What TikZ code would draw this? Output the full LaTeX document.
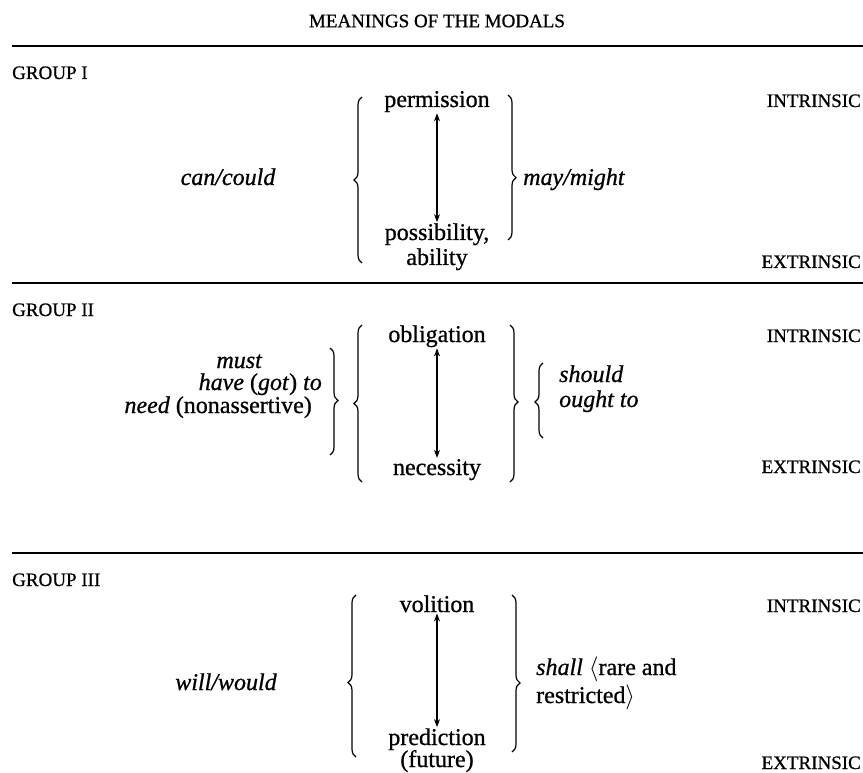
\documentclass[tikz,border=0pt]{standalone}
\usepackage{fontspec}
\setmainfont{Liberation Serif}[FakeBold=0.8]
\usetikzlibrary{arrows.meta,decorations.pathreplacing,positioning}

\tikzset{
  meaning/.style={font=\fontsize{24}{25}\selectfont, inner sep=1pt, anchor=base},
  modal/.style={font=\fontsize{24}{25}\selectfont\itshape, inner sep=1pt, anchor=base},
  heading/.style={font=\fontsize{19}{21}\selectfont, inner sep=0pt},
  rule/.style={line width=1.5pt},
  scale arrow/.style={{Stealth[length=8pt,width=6pt]}-{Stealth[length=8pt,width=6pt]}, line width=1.2pt},
  curly/.style={decorate, decoration={brace, amplitude=8pt}, line width=1.2pt},
}

\begin{document}
\begin{tikzpicture}[x=1pt,y=-1pt]
	\useasboundingbox (0,0) rectangle (863,773);

	\node[heading] (title) at (437,21) {MEANINGS OF THE MODALS};
	\draw[rule] (12,46) -- (863,46);
	\draw[rule] (12,283) -- (863,283);
	\draw[rule] (12,553) -- (863,553);

	% group I
	\node[heading, anchor=base west] (g1) at (12,79) {GROUP I};
	\node[heading, anchor=base east] (in1) at (861,107) {INTRINSIC};
	\node[heading, anchor=base east] (ex1) at (861,268) {EXTRINSIC};
	\node[meaning] (perm) at (437,107) {permission};
	\node[meaning] (poss) at (437,240) {possibility,};
	\node[meaning] (abil) at (437,265) {ability};
	\draw[scale arrow] (perm.south) -- (perm.south |- poss.north);
	\node[modal] (can) at (228,185) {can/could};
	\node[modal, anchor=base west] (may) at (522,185) {may/might};
	\draw[curly] (362,263) -- (362,97);
	\draw[curly, decoration={aspect=0.57}] (508,95) -- (508,240);

	% group II
	\node[heading, anchor=base west] (g2) at (12,316) {GROUP II};
	\node[heading, anchor=base east] (in2) at (861,342) {INTRINSIC};
	\node[heading, anchor=base east] (ex2) at (861,473) {EXTRINSIC};
	\node[meaning] (oblig) at (437,342) {obligation};
	\node[meaning] (necess) at (437,475) {necessity};
	\draw[scale arrow] (oblig.south) -- (oblig.south |- necess.north);
	\node[modal, anchor=base east] (must) at (263,368) {must};
	\node[meaning, anchor=base east] (have) at (323,390) {\textit{have} (\textit{got}) \textit{to}};
	\node[meaning, anchor=base east] (need) at (313,413) {\textit{need} (nonassertive)};
	\draw[curly, decoration={aspect=0.49}] (330,348) -- (330,455);
	\draw[curly] (362,482) -- (362,325);
	\draw[curly, decoration={aspect=0.49}] (510,325) -- (510,482);
	\draw[curly, decoration={aspect=0.48}] (543,438) -- (543,363);
	\node[modal, anchor=base west] (should) at (558,382) {should};
	\node[modal, anchor=base west] (ought) at (558,407) {ought to};

	% group III
	\node[heading, anchor=base west] (g3) at (12,586) {GROUP III};
	\node[heading, anchor=base east] (in3) at (861,612) {INTRINSIC};
	\node[heading, anchor=base east] (ex3) at (861,769) {EXTRINSIC};
	\node[meaning] (vol) at (437,612) {volition};
	\node[meaning] (pred) at (437,745) {prediction};
	\node[meaning] (fut) at (437,767) {(future)};
	\draw[scale arrow] (vol.south) -- (vol.south |- pred.north);
	\node[modal] (will) at (226,690) {will/would};
	\draw[curly, decoration={aspect=0.46}] (356,757) -- (356,595);
	\draw[curly, decoration={aspect=0.56}] (512,595) -- (512,752);
	\node[meaning, anchor=base west] (shall) at (535,675) {\textit{shall} $\langle$rare and};
	\node[meaning, anchor=base west] (restr) at (535,703) {restricted$\rangle$};
\end{tikzpicture}
\end{document}
